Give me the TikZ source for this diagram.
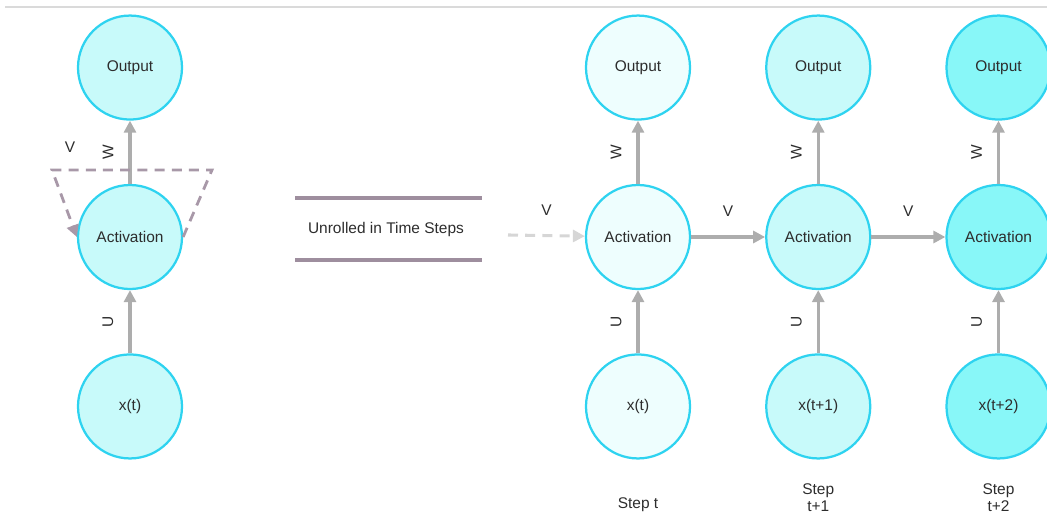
\documentclass[tikz,border=0pt]{standalone}
\usepackage{fontspec}
\setmainfont{Liberation Sans}
\usetikzlibrary{arrows.meta,positioning}
\definecolor{rnnedge}{RGB}{46,211,240}
\definecolor{rnnpale}{RGB}{238,254,254}
\definecolor{rnnmid}{RGB}{200,250,250}
\definecolor{rnndeep}{RGB}{136,247,248}
\definecolor{rnnarrow}{RGB}{173,173,173}
\definecolor{rnnloop}{RGB}{168,152,168}
\definecolor{rnnbar}{RGB}{158,142,158}
\definecolor{rnntext}{RGB}{45,45,45}

\begin{document}
\begin{tikzpicture}[
    font=\fontsize{11}{13}\selectfont,
    text=rnntext,
    node distance=1.58cm and 1.85cm,
    unit/.style={circle, draw=rnnedge, line width=1.6pt, minimum size=2.6cm, inner sep=0pt, align=center},
    arr/.style={-{Triangle[length=3mm, width=3mm]}, line width=2.2pt, rnnarrow},
    wlbl/.style={midway, xshift=-0.55cm, rotate=90, text=rnntext},
    vlbl/.style={midway, above=0.35cm, text=rnntext},
    steplbl/.style={align=center, font=\fontsize{11}{11.5}\selectfont}
  ]
    \useasboundingbox (0,0) rectangle (26.175,12.975);
    \draw[rnnarrow!45, line width=1pt] (0.125,12.8) -- (26.175,12.8);

    % folded network
    \node[unit, fill=rnnmid] (lact) at (3.25,7.05) {Activation};
    \node[unit, fill=rnnmid, above=of lact] (lout) {Output};
    \node[unit, fill=rnnmid, below=of lact] (lx) {x(t)};
    \draw[arr] (lact) -- (lout) node[wlbl] {W};
    \draw[arr] (lx) -- (lact) node[wlbl] {U};
    \coordinate (loopR) at (5.3,8.725);
    \coordinate (loopL) at (1.3,8.725);
    \draw[rnnloop, line width=2pt, dash pattern=on 2.5mm off 1.8mm, -{Triangle[length=3mm, width=3mm]}]
      (lact.east) -- (loopR) -- (loopL) -- (lact.west);
    \node (lv) at (1.75,9.3) {V};

    % unrolled label
    \node (unroll) at (9.65,7.25) {Unrolled in Time Steps};
    \draw[rnnbar, line width=2.4pt] (7.375,8.025) -- (12.05,8.025);
    \draw[rnnbar, line width=2.4pt] (7.375,6.475) -- (12.05,6.475);

    % unrolled network
    \node[unit, fill=rnnpale] (acta) at (15.95,7.05) {Activation};
    \node[unit, fill=rnnmid, right=of acta] (actb) {Activation};
    \node[unit, fill=rnndeep, right=of actb] (actc) {Activation};
    \node[unit, fill=rnnpale, above=of acta] (outa) {Output};
    \node[unit, fill=rnnmid, above=of actb] (outb) {Output};
    \node[unit, fill=rnndeep, above=of actc] (outc) {Output};
    \node[unit, fill=rnnpale, below=of acta] (xa) {x(t)};
    \node[unit, fill=rnnmid, below=of actb] (xb) {x(t+1)};
    \node[unit, fill=rnndeep, below=of actc] (xc) {x(t+2)};
    \foreach \s in {a,b,c} {
      \draw[arr] (act\s) -- (out\s) node[wlbl] {W};
      \draw[arr] (x\s) -- (act\s) node[wlbl] {U};
    }
    \coordinate (vin) at (12.7,7.1);
    \draw[arr, rnnarrow!50, dash pattern=on 2.5mm off 1.8mm] (vin) -- (acta) node[vlbl] {V};
    \draw[arr] (acta) -- (actb) node[vlbl] {V};
    \draw[arr] (actb) -- (actc) node[vlbl] {V};

    \node[steplbl, below=1.12cm of xa, anchor=center] (stepa) {Step t};
    \node[steplbl, below=0.95cm of xb, anchor=center] (stepb) {Step\\t+1};
    \node[steplbl, below=0.95cm of xc, anchor=center] (stepc) {Step\\t+2};
  \end{tikzpicture}
\end{document}
